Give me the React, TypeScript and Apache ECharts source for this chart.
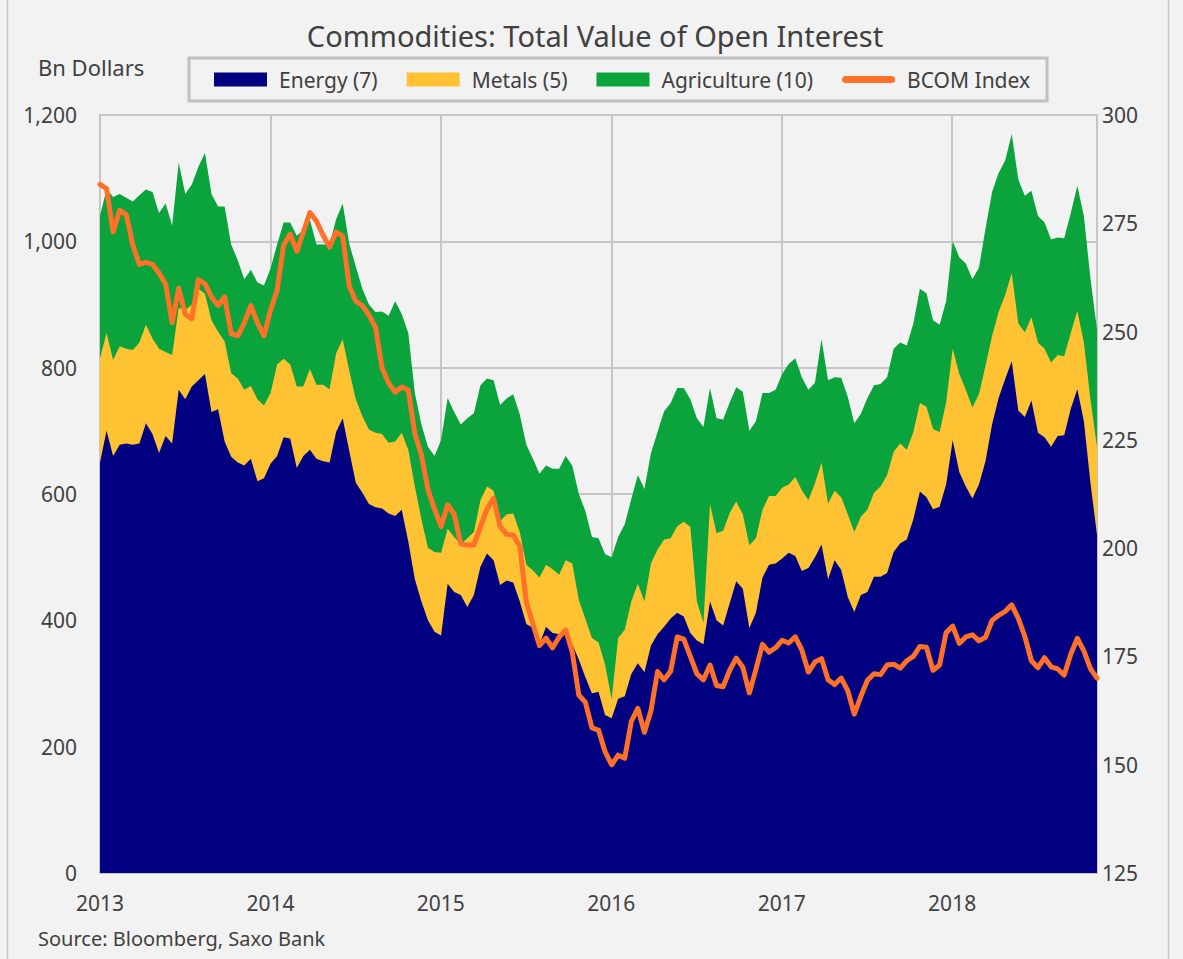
import React, { useEffect, useRef } from "react";
import * as echarts from "echarts";

// Time span of the weekly-ish samples (decimal years)
const START_YEAR = 2013;
const END_YEAR = 2018.85;

// Bn dollars, Energy (7)
const energy = [
  650, 700, 660, 678, 680, 678, 680, 712, 695, 665, 692, 680, 765, 750, 770, 780, 790, 730, 734, 683,
  659, 650, 645, 656, 620, 625, 648, 660, 690, 688, 641, 660, 670, 656, 652, 650, 698, 720, 668, 618,
  602, 584, 579, 577, 569, 565, 575, 525, 465, 430, 400, 382, 376, 458, 445, 440, 421, 440, 485, 506,
  495, 456, 463, 460, 430, 394, 388, 362, 390, 380, 378, 382, 362, 338, 310, 284, 287, 250, 245, 276,
  280, 315, 332, 318, 360, 378, 390, 403, 412, 406, 380, 368, 362, 430, 400, 392, 427, 462, 450, 388,
  412, 468, 488, 490, 498, 507, 502, 478, 483, 500, 520, 465, 495, 480, 437, 413, 440, 445, 469, 469,
  475, 508, 522, 528, 560, 604, 595, 576, 580, 615, 685, 635, 612, 593, 615, 652, 710, 752, 782, 810,
  732, 722, 748, 697, 690, 675, 692, 693, 735, 766, 715, 618, 535,
];

// Bn dollars, Metals (5)
const metals = [
  165, 155, 152, 156, 150, 150, 160, 156, 151, 165, 133, 140, 130, 141, 130, 145, 127, 145, 123, 159,
  132, 133, 120, 115, 130, 115, 112, 145, 124, 117, 129, 110, 128, 117, 121, 116, 125, 125, 127, 132,
  121, 118, 118, 118, 112, 118, 122, 145, 147, 130, 115, 126, 131, 87, 87, 80, 109, 100, 105, 106,
  110, 101, 105, 109, 110, 94, 91, 106, 98, 101, 94, 113, 128, 94, 92, 88, 78, 80, 30, 96,
  105, 115, 126, 112, 130, 134, 138, 127, 137, 150, 168, 62, 34, 154, 138, 150, 143, 126, 118, 131,
  118, 107, 109, 107, 112, 108, 125, 128, 107, 117, 130, 120, 110, 115, 131, 127, 124, 130, 133, 143,
  155, 159, 158, 142, 138, 140, 143, 127, 118, 130, 145, 155, 153, 144, 143, 151, 140, 136, 133, 140,
  138, 134, 132, 143, 140, 133, 128, 125, 120, 124, 125, 132, 140,
];

// Bn dollars, Agriculture (10)
const agriculture = [
  225, 228, 258, 241, 239, 235, 233, 214, 232, 215, 235, 205, 230, 184, 190, 193, 223, 200, 198, 213,
  204, 187, 175, 184, 185, 190, 197, 190, 216, 225, 239, 248, 236, 222, 222, 229, 212, 215, 201, 210,
  202, 198, 191, 194, 201, 222, 188, 185, 148, 150, 160, 152, 178, 207, 198, 190, 190, 188, 182, 171,
  175, 184, 183, 189, 186, 190, 177, 164, 157, 159, 168, 165, 155, 168, 171, 160, 165, 175, 225, 160,
  167, 162, 172, 178, 175, 186, 203, 214, 219, 212, 202, 290, 310, 184, 182, 176, 175, 181, 194, 181,
  185, 185, 163, 168, 180, 191, 188, 179, 175, 159, 195, 195, 180, 189, 186, 172, 163, 177, 170, 162,
  155, 163, 160, 165, 172, 181, 180, 172, 170, 160, 170, 185, 200, 203, 200, 217, 228, 220, 213, 220,
  228, 216, 200, 200, 200, 195, 186, 187, 190, 198, 200, 191, 185,
];

// BCOM Index (right axis)
const bcom = [
  284, 283, 273, 278, 277, 270, 265.5, 266, 265.5, 263.5, 261, 252, 260, 254, 253, 262, 261, 258, 256, 258,
  249.5, 249, 252, 256, 252, 249, 255, 259.5, 270, 272.5, 268.5, 273, 277.5, 275.5, 272.3, 269.5, 273, 272, 260.5, 257,
  256, 253.8, 251, 241.6, 238.1, 236, 237.2, 236.5, 226.5, 221.5, 213.5, 209, 205, 210, 207.8, 201, 200.7, 200.7, 204.9, 209,
  211.5, 205, 203.2, 203, 200.5, 187.5, 182.5, 177.5, 179.2, 177, 179.5, 181.1, 176, 166.1, 164.4, 158.5, 158, 153, 150, 152.2,
  151.5, 160, 163, 157.5, 162.5, 171.5, 169.6, 171.6, 179.5, 179, 175, 171, 169.6, 173, 168.3, 168, 171.8, 174.6, 172.5, 166.6,
  172, 177.8, 176, 177, 178.7, 178.1, 179.5, 176.5, 171.4, 173.7, 174.5, 169.6, 168.5, 170, 167.1, 161.7, 165.8, 169.5, 171, 170.8,
  173, 173.2, 172.3, 174, 175, 177.3, 177.1, 171.8, 173, 180.5, 182, 178, 179.5, 180, 178.6, 179.4, 183.3, 184.5, 185.4, 186.9,
  183.8, 179.6, 174, 172.4, 174.7, 172.6, 172.1, 170.7, 175.5, 179.2, 176.3, 172.2, 170,
];

const SERIES_NAMES = ["Energy (7)", "Metals (5)", "Agriculture (10)", "BCOM Index"];
const COLORS = { energy: "#000080", metals: "#FFC233", agri: "#0AA33C", bcom: "#FF7029" };

const FONT = "'Noto Sans', 'Open Sans', sans-serif";
const TEXT = "#404040";
const GRID_LINE = "#c6c6c6";

export default function App() {
  const ref = useRef<HTMLDivElement>(null);

  useEffect(() => {
    if (!ref.current) return;
    const chart = echarts.init(ref.current, undefined, { renderer: "svg" });
    const n = energy.length;
    const xs = energy.map((_, i) => START_YEAR + (i * (END_YEAR - START_YEAR)) / (n - 1));
    const pairs = (vals: number[]) => vals.map((v, i) => [xs[i], v]);
    const metalsTop = energy.map((v, i) => v + metals[i]);
    const agriTop = metalsTop.map((v, i) => v + agriculture[i]);

    const areaSeries = (name: string, color: string, vals: number[]) => ({
      name,
      type: "line",
      data: pairs(vals),
      symbol: "none",
      showSymbol: false,
      silent: true,
      color,
      lineStyle: { width: 0, opacity: 0 },
      areaStyle: { color, opacity: 1 },
      emphasis: { disabled: true },
    });

    chart.setOption({
      animation: false,
      backgroundColor: "#f2f2f2",
      textStyle: { fontFamily: FONT },
      title: {
        text: "Commodities: Total Value of Open Interest",
        left: 595,
        top: 35,
        textAlign: "center",
        textVerticalAlign: "middle",
        padding: 0,
        textStyle: { fontSize: 29, fontWeight: "normal", color: TEXT, fontFamily: FONT },
      },
      legend: {
        left: 189,
        top: 58,
        padding: [11, 17, 11, 25],
        borderColor: "#c0c0c0",
        borderWidth: 3,
        itemGap: 29,
        itemWidth: 53,
        itemHeight: 14,
        selectedMode: false,
        textStyle: { fontSize: 21, color: TEXT, fontFamily: FONT, padding: [0, 0, 0, 7] },
        data: [
          { name: SERIES_NAMES[0], icon: "rect", itemStyle: { color: COLORS.energy, borderWidth: 0 } },
          { name: SERIES_NAMES[1], icon: "rect", itemStyle: { color: COLORS.metals, borderWidth: 0 } },
          { name: SERIES_NAMES[2], icon: "rect", itemStyle: { color: COLORS.agri, borderWidth: 0 } },
          {
            name: SERIES_NAMES[3],
            icon: "path://M3.5,0 L49.5,0 A3.5,3.5 0 0 1 49.5,7 L3.5,7 A3.5,3.5 0 0 1 3.5,0 Z",
            itemStyle: { color: COLORS.bcom, borderWidth: 0 },
          },
        ],
      },
      grid: {
        left: 100,
        top: 115,
        width: 997,
        height: 758,
        show: true,
        borderColor: GRID_LINE,
        borderWidth: 2,
        backgroundColor: "transparent",
      },
      xAxis: {
        type: "value",
        min: START_YEAR,
        max: END_YEAR,
        interval: 1,
        axisLine: { show: false },
        axisTick: { show: false },
        splitLine: { show: true, lineStyle: { color: GRID_LINE, width: 2 } },
        axisLabel: {
          fontSize: 21,
          color: TEXT,
          fontFamily: FONT,
          margin: 19,
          showMaxLabel: false,
          formatter: (v: number) => (Math.abs(v - Math.round(v)) < 1e-6 ? String(Math.round(v)) : ""),
        },
      },
      yAxis: [
        {
          type: "value",
          min: 0,
          max: 1200,
          interval: 200,
          axisLine: { show: false },
          axisTick: { show: false },
          splitLine: { show: true, lineStyle: { color: GRID_LINE, width: 2 } },
          axisLabel: {
            fontSize: 21,
            color: TEXT,
            fontFamily: FONT,
            margin: 23,
            formatter: (v: number) => v.toLocaleString("en-US"),
          },
        },
        {
          type: "value",
          position: "right",
          min: 125,
          max: 300,
          interval: 25,
          axisLine: { show: false },
          axisTick: { show: false },
          splitLine: { show: false },
          axisLabel: { fontSize: 21, color: TEXT, fontFamily: FONT, margin: 5 },
        },
      ],
      graphic: [
        { type: "line", shape: { x1: 7.5, y1: 0, x2: 7.5, y2: 959 }, style: { stroke: "#c8c8c8", lineWidth: 1.5 }, silent: true },
        { type: "line", shape: { x1: 1168.5, y1: 0, x2: 1168.5, y2: 959 }, style: { stroke: "#c8c8c8", lineWidth: 1.5 }, silent: true },
        {
          type: "text",
          left: 38,
          top: 56,
          style: { text: "Bn Dollars", font: `22px ${FONT}`, fill: TEXT },
          silent: true,
        },
        {
          type: "text",
          left: 38,
          top: 928,
          style: { text: "Source: Bloomberg, Saxo Bank", font: `20px ${FONT}`, fill: TEXT },
          silent: true,
        },
      ],
      series: [
        areaSeries(SERIES_NAMES[2], COLORS.agri, agriTop),
        areaSeries(SERIES_NAMES[1], COLORS.metals, metalsTop),
        areaSeries(SERIES_NAMES[0], COLORS.energy, energy),
        {
          name: SERIES_NAMES[3],
          type: "line",
          yAxisIndex: 1,
          data: pairs(bcom),
          symbol: "none",
          showSymbol: false,
          silent: true,
          color: COLORS.bcom,
          z: 5,
          lineStyle: { width: 5, color: COLORS.bcom, join: "round", cap: "round" },
          emphasis: { disabled: true },
        },
      ],
    });

    return () => chart.dispose();
  }, []);

  return (
    <div style={{ position: "fixed", left: 0, top: 0, width: 1183, height: 959, background: "#f2f2f2" }}>
      <div ref={ref} style={{ width: 1183, height: 959 }} />
    </div>
  );
}
